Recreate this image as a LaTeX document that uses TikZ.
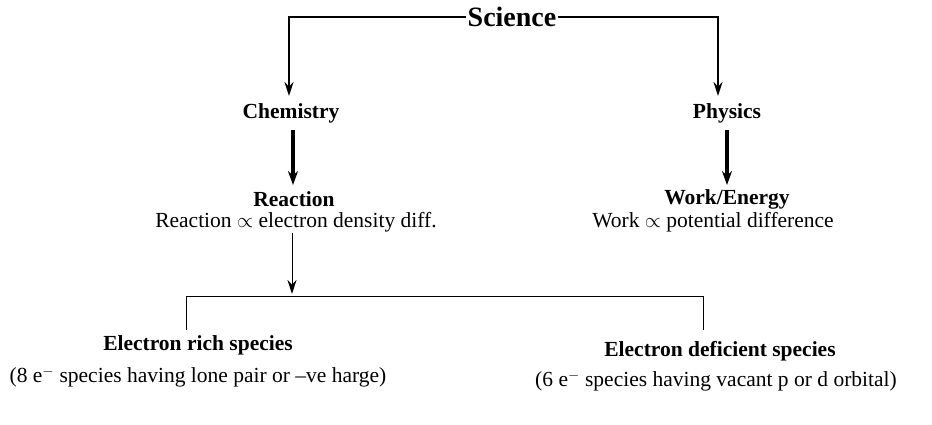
\documentclass[tikz,border=0pt]{standalone}
\usepackage{fontspec}
\setmainfont{Liberation Serif}
\usetikzlibrary{arrows.meta}
\tikzset{
  lbl/.style={inner sep=1pt, font=\fontsize{21.5}{25}\selectfont\bfseries},
  sub/.style={inner sep=1pt, font=\fontsize{21.5}{25}\selectfont},
  arr/.style={-{Stealth[length=14pt,width=9pt]}},
  thickarr/.style={line width=3.5pt,-{Stealth[length=14pt,width=10pt]}}
}
\begin{document}
\begin{tikzpicture}[x=1pt,y=-1pt]
\useasboundingbox (0,0) rectangle (932,425);
\node[lbl, font=\fontsize{28}{32}\selectfont\bfseries] (sci) at (512,17) {Science};
\node[lbl] (chem) at (291,113) {Chemistry};
\node[lbl] (phys) at (727,113) {Physics};
\node[lbl] (reac) at (294,199) {Reaction};
\node[sub] (reacd) at (296,222) {Reaction $\propto$ electron density diff.};
\node[lbl] (work) at (727,199) {Work/Energy};
\node[sub] (workd) at (713,222) {Work $\propto$ potential difference};
\node[lbl] (rich) at (198,345) {Electron rich species};
\node[sub] (richd) at (198,377) {(8 e$^-$ species having lone pair or --ve harge)};
\node[lbl] (def) at (720,351) {Electron deficient species};
\node[sub] (defd) at (716,381) {(6 e$^-$ species having vacant p or d orbital)};
\coordinate (split) at (292,294);
\draw[arr, line width=1.5pt] (sci.west) -| (289,96);
\draw[arr, line width=1.5pt] (sci.east) -| (718,96);
\draw[thickarr] (293,130) -- (293,185);
\draw[thickarr] (727,130) -- (727,185);
\draw[arr, line width=1pt] (reacd.south -| split) -- (split);
\draw[line width=1pt] (186,330) |- (703,296) -- (703,330);
\end{tikzpicture}
\end{document}
